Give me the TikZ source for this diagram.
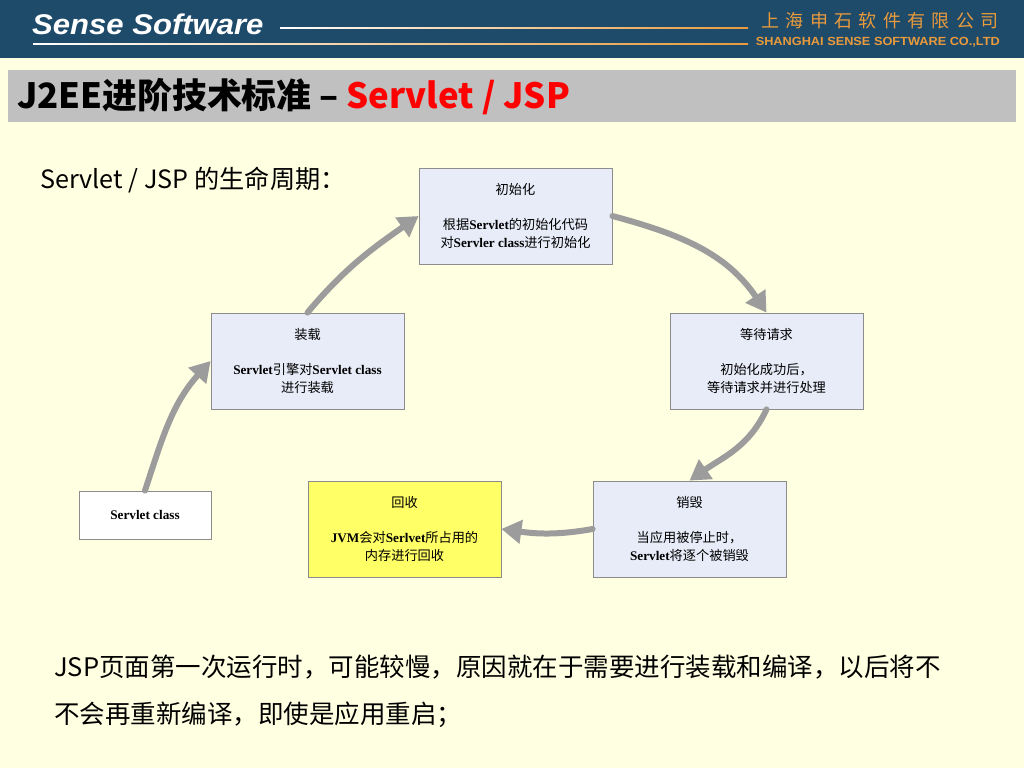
\documentclass[tikz,border=0pt]{standalone}
\usepackage{fontspec}
\setmainfont{Liberation Serif}
\newfontfamily\cjkf{Noto Sans CJK SC}
\newfontfamily\hdf{Liberation Sans}
\newfontfamily\brandf{Liberation Sans}[FakeStretch=1.09]
\newfontfamily\enf{Liberation Sans}[FakeStretch=1.08]
\newfontfamily\lat{Liberation Serif}
\usetikzlibrary{arrows.meta}
\definecolor{band}{HTML}{1F4B6B}
\definecolor{cream}{HTML}{FFFFE1}
\definecolor{barC}{HTML}{C0C0C0}
\definecolor{orangeC}{HTML}{E89A3C}
\definecolor{boxC}{HTML}{E8ECF8}
\definecolor{edgeC}{HTML}{8C8C8C}
\definecolor{arrC}{HTML}{9C9C9C}
\definecolor{yelC}{HTML}{FFFF66}
\definecolor{redC}{HTML}{FF0000}
\newcommand\B[1]{{\lat\bfseries #1}}
\tikzset{
  stagebox/.style={draw=edgeC, line width=0.8pt, fill=boxC, minimum width=193pt, minimum height=96pt,
    inner sep=0pt, align=center, font=\cjkf\fontsize{13.2}{18}\selectfont},
  flow/.style={draw=arrC, line width=6pt, line cap=round, -{Triangle[length=20pt,width=23pt]}},
}
\begin{document}
\begin{tikzpicture}[x=1pt,y=1pt]
\useasboundingbox (0,0) rectangle (1024,-768);
\fill[cream] (0,0) rectangle (1024,-768);
\fill[band] (0,0) rectangle (1024,-58);
\node[anchor=west, text=white, inner sep=0pt, font=\brandf\bfseries\itshape\fontsize{28.5}{32}\selectfont] (brand) at (32,-24) {Sense Software};
\shade[left color=white, right color=orangeC] (280,-27.3) rectangle (748,-28.8);
\shade[left color=white, right color=orangeC] (33,-43.3) rectangle (748,-44.8);
\node[anchor=east, text=orangeC, inner sep=0pt, font=\cjkf\fontsize{18}{20}\selectfont] (cn) at (999,-21)
  {上\hspace{6.4pt}海\hspace{6.4pt}申\hspace{6.4pt}石\hspace{6.4pt}软\hspace{6.4pt}件\hspace{6.4pt}有\hspace{6.4pt}限\hspace{6.4pt}公\hspace{6.4pt}司};
\node[anchor=east, text=orangeC, inner sep=0pt, font=\enf\bfseries\fontsize{11.8}{12}\selectfont] (en) at (1000,-42) {SHANGHAI SENSE SOFTWARE CO.,LTD};

\fill[barC] (8,-70) rectangle (1016,-122);
\node[anchor=west, inner sep=0pt, font=\cjkf\bfseries\fontsize{34.8}{36}\selectfont] (title) at (17,-97)
  {J2EE进阶技术标准 – \textcolor{redC}{Servlet / JSP}};

\node[anchor=west, inner sep=0pt, font=\cjkf\fontsize{25.2}{27}\selectfont] (sub) at (40,-180) {Servlet / JSP 的生命周期：};

\node[stagebox] (init) at (515.5,-216) {初始化\\[17pt]根据\B{Servlet}的初始化代码\\对\B{Servler class}进行初始化};
\node[stagebox] (wait) at (766.5,-361) {等待请求\\[17pt]初始化成功后，\\等待请求并进行处理};
\node[stagebox] (load) at (307.5,-361) {装载\\[17pt]\B{Servlet}引擎对\B{Servlet class}\\进行装载};
\node[stagebox, fill=white, minimum width=132pt, minimum height=48pt] (cls) at (145,-515) {\B{Servlet class}};
\node[stagebox, fill=yelC] (rec) at (404.5,-529) {回收\\[17pt]\B{JVM}会对\B{Serlvet}所占用的\\内存进行回收};
\node[stagebox] (des) at (689.5,-529) {销毁\\[17pt]当应用被停止时，\\\B{Servlet}将逐个被销毁};

\draw[flow] (cls.north) to[out=72, in=228] (load.west);
\draw[flow] (load.north) to[out=50, in=215] (init.west);
\draw[flow] (init.east) to[out=-15, in=124] (wait.north);
\draw[flow] (wait.south) to[out=-115, in=35] (des.north);
\draw[flow] (des.west) to[out=190, in=-8] (rec.east);

\node[anchor=west, inner sep=0pt, font=\cjkf\fontsize{25.5}{28}\selectfont] (note1) at (54,-667)
  {JSP页面第一次运行时，可能较慢，原因就在于需要进行装载和编译，以后将不};
\node[anchor=west, inner sep=0pt, font=\cjkf\fontsize{25.5}{28}\selectfont] (note2) at (54,-715)
  {不会再重新编译，即使是应用重启；};
\end{tikzpicture}
\end{document}
